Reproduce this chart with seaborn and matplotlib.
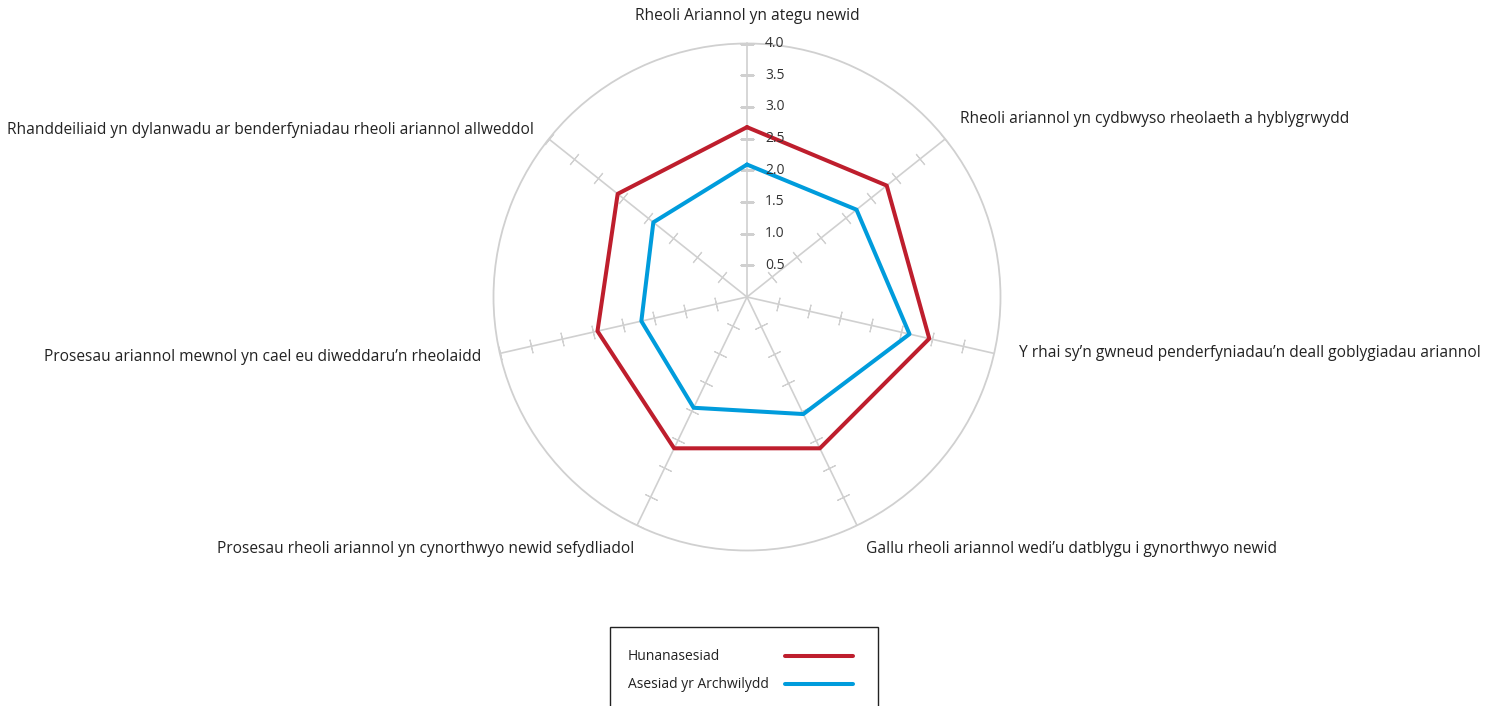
import numpy as np
import pandas as pd
import matplotlib
matplotlib.use("Agg")
import matplotlib.pyplot as plt
from matplotlib.lines import Line2D
from matplotlib.patches import Rectangle
import seaborn as sns

# Categories (clockwise from the top)
categories = [
    "Rheoli Ariannol yn ategu newid",
    "Rheoli ariannol yn cydbwyso rheolaeth a hyblygrwydd",
    "Y rhai sy\u2019n gwneud penderfyniadau\u2019n deall goblygiadau ariannol",
    "Gallu rheoli ariannol wedi\u2019u datblygu i gynorthwyo newid",
    "Prosesau rheoli ariannol yn cynorthwyo newid sefydliadol",
    "Prosesau ariannol mewnol yn cael eu diweddaru\u2019n rheolaidd",
    "Rhanddeiliaid yn dylanwadu ar benderfyniadau rheoli ariannol allweddol",
]
self_assessment = [2.68, 2.82, 2.95, 2.65, 2.65, 2.42, 2.61]
auditor_assessment = [2.09, 2.21, 2.63, 2.05, 1.94, 1.71, 1.89]
series_names = ["Hunanasesiad", "Asesiad yr Archwilydd"]
r_ticks = [0.5, 1.0, 1.5, 2.0, 2.5, 3.0, 3.5, 4.0]

red = "#BE1E2D"
blue = "#009CDC"
grid_col = "#D0D0D0"

sns.set_style("white")
plt.rcParams["font.family"] = ["Open Sans", "DejaVu Sans"]

n = len(categories)
angles = np.arange(n) * 2 * np.pi / n

# long table, each polygon closed by repeating the first value at 2*pi
frames = []
for name, vals in zip(series_names, [self_assessment, auditor_assessment]):
    frames.append(pd.DataFrame({
        "theta": np.append(angles, 2 * np.pi),
        "value": vals + vals[:1],
        "series": name,
    }))
df = pd.concat(frames, ignore_index=True)

fig = plt.figure(figsize=(14.99, 7.06), dpi=100)
cx, cy, rad = 747 / 1499, 1 - 297 / 706, 253.5
ax = fig.add_axes([cx - rad / 1499, cy - rad / 706, 2 * rad / 1499, 2 * rad / 706],
                  projection="polar")
ax.set_theta_zero_location("N")
ax.set_theta_direction(-1)

sns.lineplot(data=df, x="theta", y="value", hue="series", sort=False,
             palette=[red, blue], linewidth=2.9, legend=False, ax=ax, zorder=5)

ax.set_ylim(0, 4.0)
ax.set_xticks(angles)
ax.set_xticklabels([])
ax.set_yticks(r_ticks)
ax.set_yticklabels([])
ax.xaxis.grid(True, color=grid_col, linewidth=1.2)
ax.yaxis.grid(False)
ax.spines["polar"].set_color(grid_col)
ax.spines["polar"].set_linewidth(1.3)
ax.set_xlabel("")
ax.set_ylabel("")
ax.tick_params(axis="both", length=0)

# small ticks across each spoke
for th in angles:
    ang = 90 - np.degrees(th)
    ax.plot([th] * len(r_ticks), r_ticks, linestyle="none",
            marker=(2, 2, ang), markersize=10, markeredgewidth=0.8,
            color=grid_col, zorder=3)

# radial value labels on the top spoke
for r in r_ticks:
    ax.annotate(f"{r:.1f}", xy=(0, r), xytext=(18, 0), textcoords="offset pixels",
                ha="left", va="center", fontsize=10, color="#333333",
                annotation_clip=False, zorder=6)

# category labels
offsets = [(0, 27, "center"), (15, 20, "left"), (25, 0, "left"), (9, -24, "left"),
           (-3, -24, "right"), (-19, -4, "right"), (-15, 9, "right")]
for th, lab, (dx, dy, ha) in zip(angles, categories, offsets):
    ax.annotate(lab, xy=(th, 4.0), xytext=(dx, dy), textcoords="offset pixels",
                ha=ha, va="center", fontsize=11.2, color="#222222",
                annotation_clip=False)

# legend box: label left, line swatch right
W, H = 1499, 706
fig.add_artist(Rectangle((610 / W, 1 - 720 / H), 268 / W, 93 / H,
                         transform=fig.transFigure, fill=False,
                         edgecolor="#222222", linewidth=1.0))
for name, col, y in zip(series_names, [red, blue], [656, 684]):
    fig.text(628 / W, 1 - y / H, name, ha="left", va="center",
             fontsize=10, color="#222222")
    fig.add_artist(Line2D([785 / W, 853 / W], [1 - y / H, 1 - y / H],
                          transform=fig.transFigure, color=col, linewidth=2.9))

fig.savefig("out.png", dpi=100)
